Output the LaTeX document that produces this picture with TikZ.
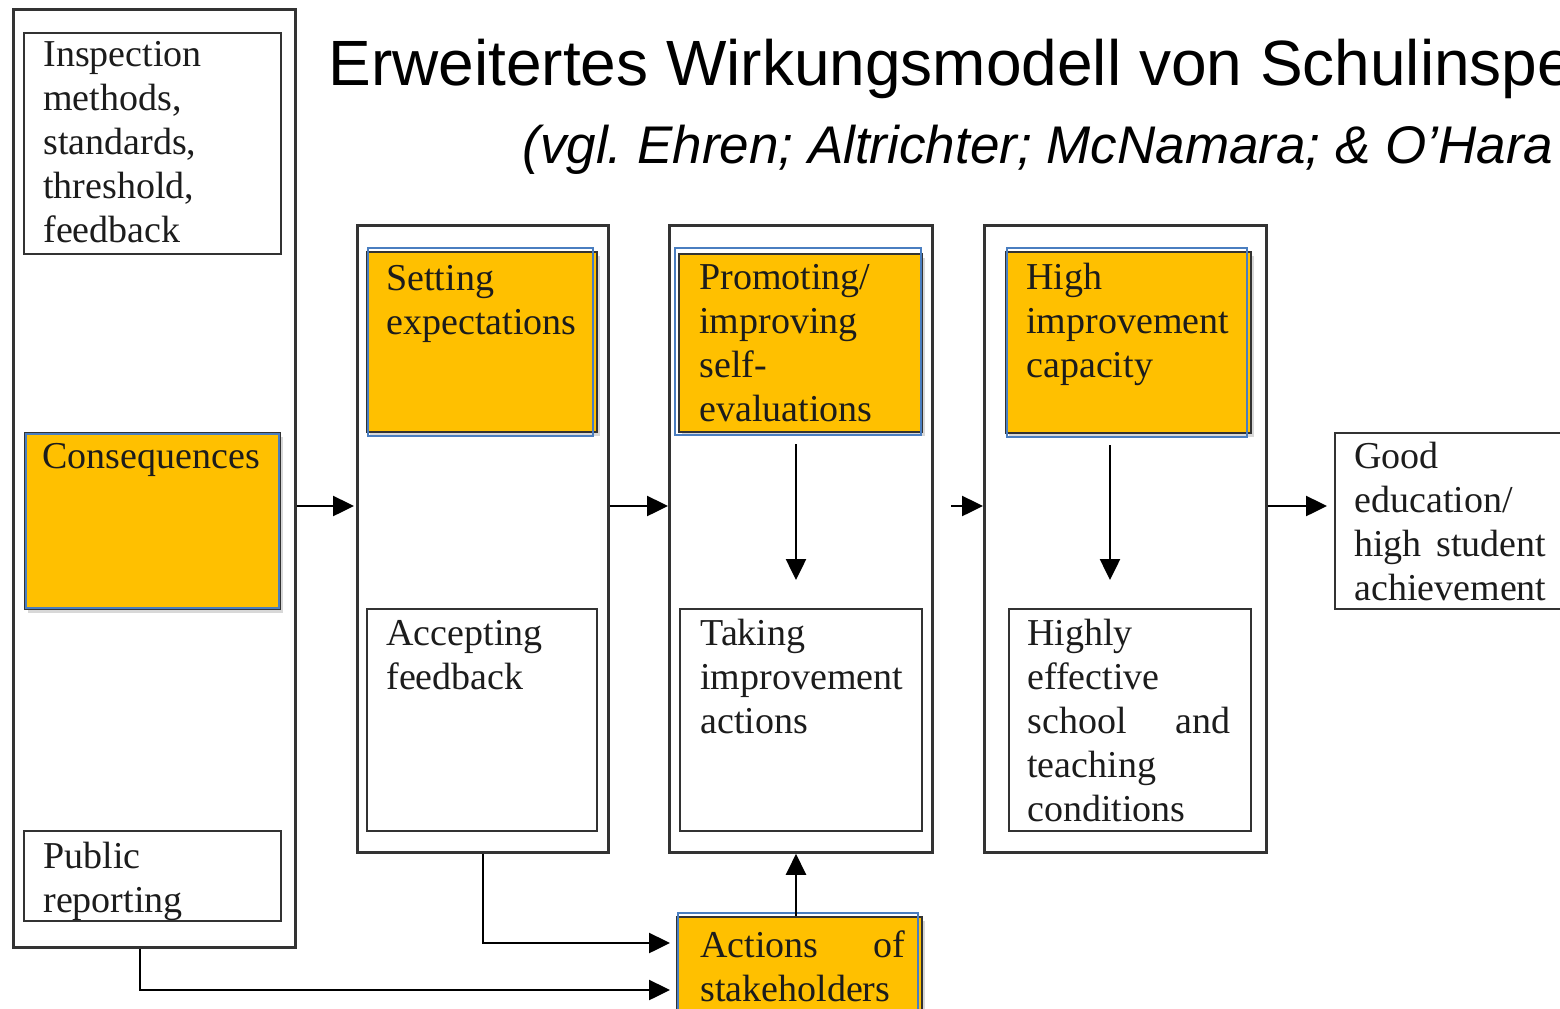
\documentclass[tikz,border=0pt]{standalone}
\usepackage{fontspec}
\setmainfont{Liberation Sans}
\newfontfamily\boxfontfam{Liberation Serif}
\newcommand\boxfont{\boxfontfam\fontsize{19}{22}\selectfont}
\usetikzlibrary{arrows.meta,shadows}
\frenchspacing
\definecolor{gold}{HTML}{FFC000}
\definecolor{linec}{HTML}{333333}
\definecolor{ink}{HTML}{1C1C1C}
\definecolor{edgeblue}{HTML}{4A7EC0}
\tikzset{
  frame/.style={draw=linec, line width=1.4pt, inner sep=0pt, anchor=north west},
  plain/.style={draw=linec, line width=1pt, inner sep=0pt, anchor=north west, fill=white},
  hot/.style={draw=linec, line width=1pt, fill=gold, inner sep=0pt, anchor=north west,
    drop shadow={opacity=0.3, shadow xshift=1.5pt, shadow yshift=-2pt}},
  txt/.style={anchor=base west, inner sep=0pt, align=left, font=\boxfont, text=ink},
  arr/.style={draw=black, line width=1.25pt, -{Triangle[length=10.5pt,width=10pt]}},
  blueline/.style={draw=edgeblue, line width=0.6pt},
}
\begin{document}
\begin{tikzpicture}[x=0.5pt,y=-0.5pt]
\path[use as bounding box] (0,0) rectangle (1560,1008);
\clip (0,0) rectangle (1560,1008);
\fill[white] (0,0) rectangle (1560,1008);

% title
\node[anchor=base west, inner sep=0pt, font=\fontsize{32}{38}\selectfont] (title) at (328,85)
  {Erweitertes Wirkungsmodell von Schulinspe};
\node[anchor=base west, inner sep=0pt, font=\itshape\fontsize{26.5}{31}\selectfont] (subtitle) at (522,163)
  {(vgl. Ehren; Altrichter; McNamara; \& O’Hara};

% left column
\node[frame, minimum width=141pt, minimum height=469pt] (outerL) at (12,8) {};
\node[plain, minimum width=128.5pt, minimum height=110.5pt] (insp) at (23,32) {};
\node[txt, text width=108pt] (insp-t) at (43,66) {Inspection\\methods,\\standards,\\threshold,\\feedback};
\node[hot, minimum width=127.5pt, minimum height=88pt] (cons) at (24,432) {};
\draw[blueline] ([shift={(2,2)}]cons.north west) rectangle ([shift={(-2,-2)}]cons.south east);
\node[txt] (cons-t) at (42,468) {Consequences};
\node[plain, minimum width=128.5pt, minimum height=45pt] (pub) at (23,830) {};
\node[txt, text width=108pt] (pub-t) at (43,868) {Public\\reporting};

% column 2
\node[frame, minimum width=125.5pt, minimum height=313.5pt] (col2) at (356,224) {};
\node[hot, minimum width=115pt, minimum height=90pt] (set) at (366,251) {};
\draw[blueline] ([shift={(2,-3)}]set.north west) rectangle ([shift={(-5,3)}]set.south east);
\node[txt, text width=100pt] (set-t) at (386,290) {Setting\\expectations};
\node[plain, minimum width=115pt, minimum height=111pt] (acc) at (366,608) {};
\node[txt, text width=100pt] (acc-t) at (386,645) {Accepting\\feedback};

% column 3
\node[frame, minimum width=131.5pt, minimum height=313.5pt] (col3) at (668,224) {};
\node[hot, minimum width=121.5pt, minimum height=89pt] (prom) at (678,253) {};
\draw[blueline] ([shift={(-3,-5)}]prom.north west) rectangle ([shift={(-2,2)}]prom.south east);
\node[txt, text width=104pt] (prom-t) at (699,289) {Promoting/\\improving\\self-\\evaluations};
\node[plain, minimum width=121pt, minimum height=111pt] (take) at (679,608) {};
\node[txt, text width=104pt] (take-t) at (700,645) {Taking\\improvement\\actions};

% column 4
\node[frame, minimum width=141pt, minimum height=313.5pt] (col4) at (983,224) {};
\node[hot, minimum width=122.5pt, minimum height=90.5pt] (high) at (1005,251) {};
\draw[blueline] ([shift={(2,-3)}]high.north west) rectangle ([shift={(-5,3)}]high.south east);
\node[txt, text width=104pt] (high-t) at (1026,289) {High\\improvement\\capacity};
\node[plain, minimum width=121pt, minimum height=111pt] (eff) at (1008,608) {};
\node[txt, text width=101.5pt] (eff-t) at (1027,645) {Highly\\effective\\school\hfill and\\teaching\\conditions};

% outcome
\node[plain, minimum width=116pt, minimum height=88pt] (good) at (1334,432) {};
\node[txt, text width=96pt] (good-t) at (1354,468) {Good\\education/\\high\hfill student\\achievement};

% stakeholders
\node[hot, minimum width=122.5pt, minimum height=62pt] (act) at (676,916) {};
\draw[blueline] ([shift={(2,-3)}]act.north west) rectangle ([shift={(-5,3)}]act.south east);
\node[txt, text width=102.5pt] (act-t) at (700,957) {Actions\hfill of\\stakeholders};

% connectors
\coordinate (rowy) at (0,506);
\coordinate (a3s) at (951,506);
\coordinate (p3) at (796,0);
\coordinate (p4) at (1110,0);
\coordinate (pl) at (140,0);
\coordinate (r1) at (0,943);
\coordinate (r2) at (0,990);

\draw[arr, shorten >=1pt] (outerL.east |- rowy) -- (col2.west |- rowy);
\draw[arr] (col2.east |- rowy) -- (col3.west |- rowy);
\draw[arr] (a3s) -- (col4.west |- rowy);
\draw[arr, shorten >=3.5pt] (col4.east |- rowy) -- (good.west |- rowy);

\draw[arr, shorten <=5.5pt, shorten >=14pt] (p3 |- prom.south) -- (p3 |- take.north);
\draw[arr, shorten <=5.5pt, shorten >=14pt] (p4 |- high.south) -- (p4 |- eff.north);

\draw[arr] (p3 |- act.north) -- (p3 |- col3.south);
\draw[arr, shorten >=3pt] (col2.south) |- (act.west |- r1);
\draw[arr, shorten >=3pt] (pl |- outerL.south) |- (act.west |- r2);
\end{tikzpicture}
\end{document}
